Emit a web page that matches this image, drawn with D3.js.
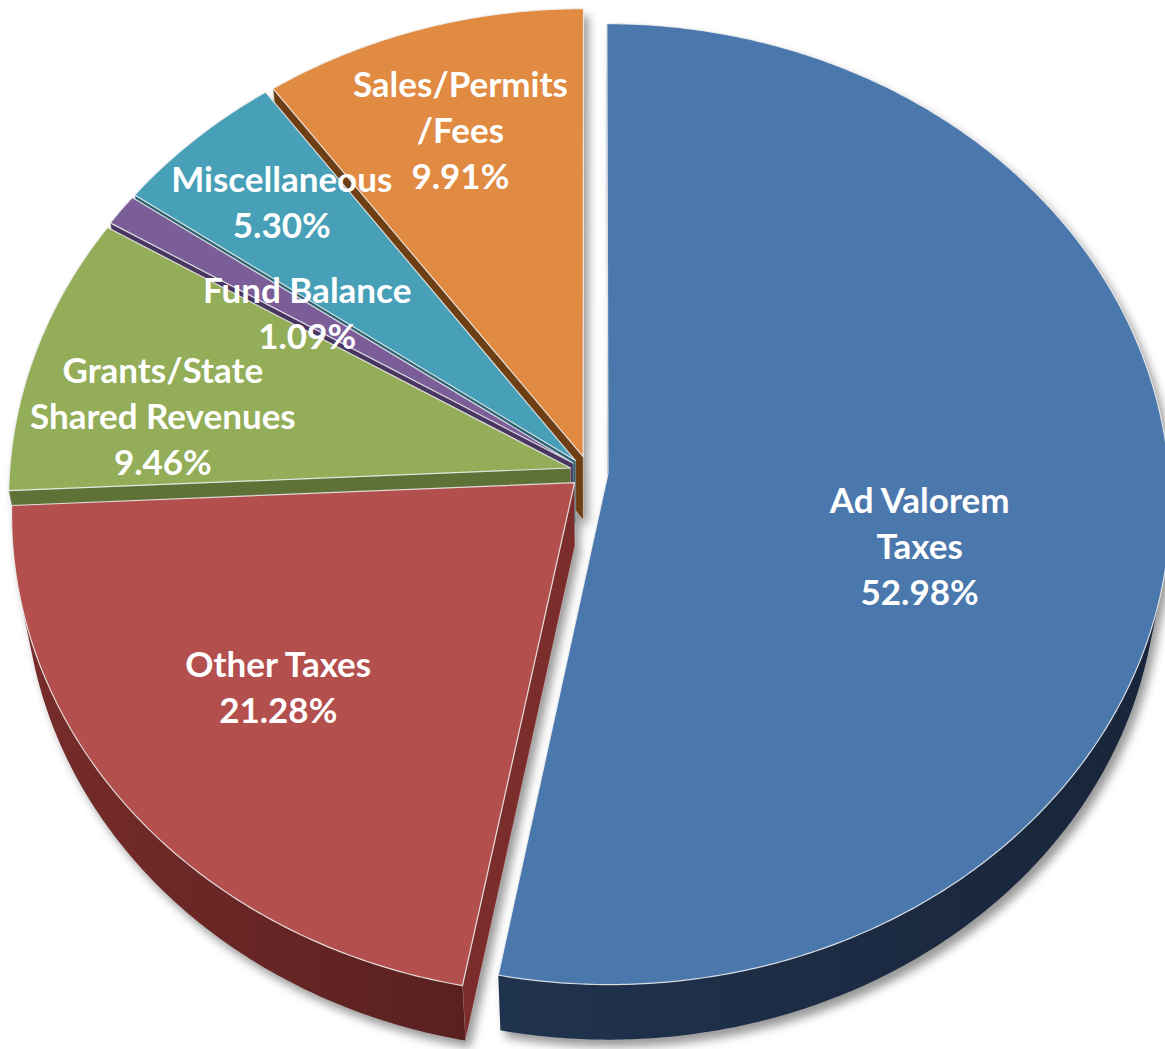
<!DOCTYPE html>
<html>
<head>
<meta charset="utf-8">
<script src="https://cdn.jsdelivr.net/npm/d3@7"></script>
<style>
  body { margin: 0; background: #fff; }
  svg { display: block; }
</style>
</head>
<body>
<div id="chart"></div>
<script>
// revenue sources, share of the total in percent
const categories = ["Ad Valorem\nTaxes", "Other Taxes", "Grants/State\nShared Revenues", "Fund Balance", "Miscellaneous", "Sales/Permits\n/Fees"];
const values = [52.98, 21.28, 9.46, 1.09, 5.30, 9.91];
const topColors = ["#4a77ac", "#b34f4d", "#93ad59", "#7b5e98", "#47a0b7", "#e08a42"];
const sideColors = ["#1c2c44", "#672624", "#4f5f2e", "#3d2d50", "#23525f", "#5c3511"];
// label placement: fraction of the radius, and a small turn (degrees) off the slice middle
const labelRadius = [0.57, 0.66, 0.74, 0.58, 0.78, 0.75];
const labelTurn = [10, 2, -6, 0, 1, 0];

const W = 1165, H = 1049;

// 3d pie set up: centre on screen, radius in px, tilt and camera distance (in radii)
const cx = 589, cy = 472, rPx = 561;
const tilt = 58.5 * Math.PI / 180;
const sinT = Math.sin(tilt), cosT = Math.cos(tilt);
const camDist = 8.2;
const thick = 0.22;
const explode = 0.034;

function project(X, Y, Z) {
    const f = camDist / (camDist + Z * cosT - Y * sinT);
    return [cx + rPx * X * f, cy - rPx * (Y * cosT + Z * sinT) * f];
}

const cam = [0, camDist * sinT, -camDist * cosT];
function camDistance(X, Y, Z) {
    return Math.hypot(X - cam[0], Y - cam[1], Z - cam[2]);
}

// d3.pie angles run clockwise from 12 o'clock
const arcs = d3.pie().sort(null).value(d => d)(values);

const slices = arcs.map((p, i) => {
    const mid = (p.startAngle + p.endAngle) / 2;
    return {
        i: i,
        a0: p.startAngle,
        a1: p.endAngle,
        mid: mid,
        ex: explode * Math.sin(mid),
        ez: explode * Math.cos(mid)
    };
});

function pt(s, a, r, Y) {
    return project(s.ex + r * Math.sin(a), Y, s.ez + r * Math.cos(a));
}

function arcAngles(a0, a1) {
    const n = Math.max(2, Math.ceil((a1 - a0) / (0.5 * Math.PI / 180)));
    return d3.range(n + 1).map(j => a0 + (a1 - a0) * j / n);
}

const svg = d3.select("#chart")
    .append("svg")
    .attr("width", W)
    .attr("height", H);

const defs = svg.append("defs");
defs.append("filter")
    .attr("id", "soft")
    .attr("x", "-10%").attr("y", "-10%")
    .attr("width", "120%").attr("height", "120%")
    .append("feGaussianBlur")
    .attr("stdDeviation", 5);

slices.forEach(s => {
    const base = d3.color(sideColors[s.i]);
    const g = defs.append("linearGradient")
        .attr("id", "side" + s.i)
        .attr("x1", 0).attr("y1", 0).attr("x2", 1).attr("y2", 0);
    g.append("stop").attr("offset", 0).attr("stop-color", base.brighter(0.4));
    g.append("stop").attr("offset", 1).attr("stop-color", base.darker(0.45));
});

// collect side faces (outer rim and cut faces) that face the camera
const faces = [];
slices.forEach(s => {
    // outer rim
    const angles = arcAngles(s.a0, s.a1);
    let run = [];
    const flush = () => {
        if (run.length > 1) {
            const top = run.map(a => pt(s, a, 1, 0));
            const bot = run.slice().reverse().map(a => pt(s, a, 1, -thick));
            const am = run[Math.floor(run.length / 2)];
            faces.push({
                s: s, kind: "rim",
                points: top.concat(bot),
                d: camDistance(s.ex + Math.sin(am), -thick / 2, s.ez + Math.cos(am))
            });
        }
        run = [];
    };
    angles.forEach(a => {
        const vis = -1 - s.ex * Math.sin(a) - Math.cos(a) * (camDist * cosT + s.ez);
        if (vis > 0) run.push(a); else flush();
    });
    flush();

    // cut faces at the start and end angle
    [["start", s.a0, [-Math.cos(s.a0), 0, Math.sin(s.a0)]],
     ["end", s.a1, [Math.cos(s.a1), 0, -Math.sin(s.a1)]]].forEach(([kind, a, n]) => {
        const v = n[0] * (cam[0] - s.ex) + n[1] * cam[1] + n[2] * (cam[2] - s.ez);
        if (v <= 0) return;
        faces.push({
            s: s, kind: kind,
            points: [pt(s, a, 0, 0), pt(s, a, 1, 0), pt(s, a, 1, -thick), pt(s, a, 0, -thick)],
            d: camDistance(s.ex + 0.5 * Math.sin(a), -thick / 2, s.ez + 0.5 * Math.cos(a))
        });
    });
});
faces.sort((a, b) => b.d - a.d);

const line = d3.line().curve(d3.curveLinearClosed);

function topPoints(s) {
    return [pt(s, 0, 0, 0)].concat(arcAngles(s.a0, s.a1).map(a => pt(s, a, 1, 0)));
}

// soft shadow behind every slice
const shadow = svg.append("g")
    .attr("transform", "translate(5,7)")
    .attr("filter", "url(#soft)")
    .attr("opacity", 0.55);
shadow.selectAll("path.sf")
    .data(faces)
    .enter()
    .append("path")
    .attr("d", f => line(f.points))
    .attr("fill", "#444");
shadow.selectAll("path.st")
    .data(slices)
    .enter()
    .append("path")
    .attr("d", s => line(topPoints(s)))
    .attr("fill", "#444");

// side faces, back to front
svg.append("g")
    .selectAll("path")
    .data(faces)
    .enter()
    .append("path")
    .attr("d", f => line(f.points))
    .attr("fill", f => f.kind === "rim" ? "url(#side" + f.s.i + ")"
        : (f.kind === "start" ? d3.color(sideColors[f.s.i]).brighter(0.5) : sideColors[f.s.i]))
    .attr("stroke", f => f.kind === "rim" ? "none" : "rgba(255,255,255,0.35)")
    .attr("stroke-width", 0.8);

// top faces
svg.append("g")
    .selectAll("path")
    .data(slices)
    .enter()
    .append("path")
    .attr("d", s => line(topPoints(s)))
    .attr("fill", s => topColors[s.i])
    .attr("stroke", "rgba(240,240,240,0.85)")
    .attr("stroke-width", 1.2)
    .attr("stroke-linejoin", "round");

// labels
const lineH = 46;
const labels = svg.append("g")
    .attr("font-family", "Lato, 'Open Sans', sans-serif")
    .attr("font-weight", 700)
    .attr("font-size", 35)
    .attr("fill", "#fff")
    .attr("text-anchor", "middle");

slices.forEach(s => {
    const a = s.mid + labelTurn[s.i] * Math.PI / 180;
    const p = pt(s, a, labelRadius[s.i], 0);
    const lines = categories[s.i].split("\n").concat([values[s.i].toFixed(2) + "%"]);
    const t = labels.append("text")
        .attr("x", p[0])
        .attr("y", p[1] - (lines.length - 1) * lineH / 2);
    lines.forEach((txt, j) => {
        t.append("tspan")
            .attr("x", p[0])
            .attr("dy", j === 0 ? "0.35em" : lineH)
            .text(txt);
    });
});
</script>
</body>
</html>
